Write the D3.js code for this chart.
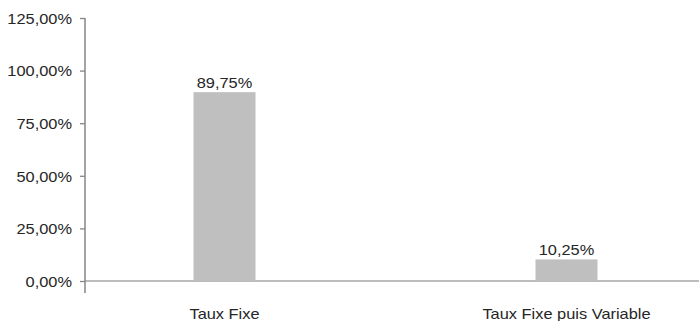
<!DOCTYPE html>
<html>
<head>
<meta charset="utf-8">
<script src="https://cdn.jsdelivr.net/npm/d3@7"></script>
<style>
  html, body { margin: 0; padding: 0; background: #fff; }
  svg { display: block; }
  text { font-family: "Liberation Sans", Arial, sans-serif; fill: #262626; }
</style>
</head>
<body>
<svg id="chart" width="699" height="321"></svg>
<script>
// Loan rate types and their share
const categories = ["Taux Fixe", "Taux Fixe puis Variable"];
const values = [89.75, 10.25];
const yTicks = [0, 25, 50, 75, 100, 125];

const fmt = v => v.toFixed(2).replace(".", ",") + "%";

const svg = d3.select("#chart");

const fontSize = 14.5;
const stretch = 1.13; // slightly wide lettering

const y = d3.scaleLinear().domain([0, 125]).range([281, 18]);
const x = d3.scalePoint().domain(categories).range([224.5, 566.5]);
const barW = 62;
const axisX = 85;

// horizontal baseline
svg.append("line")
  .attr("x1", axisX).attr("x2", 699)
  .attr("y1", y(0)).attr("y2", y(0))
  .attr("stroke", "#a6a6a6").attr("stroke-width", 1.3);

// bars
svg.selectAll("rect.bar").data(values).join("rect")
  .attr("class", "bar")
  .attr("x", (d, i) => x(categories[i]) - barW / 2)
  .attr("width", barW)
  .attr("y", d => y(d))
  .attr("height", d => y(0) - y(d))
  .attr("fill", "#bfbfbf");

// value labels
svg.selectAll("text.val").data(values).join("text")
  .attr("class", "val")
  .attr("transform", (d, i) => `translate(${x(categories[i])},${y(d) - 4}) scale(${stretch},1)`)
  .attr("text-anchor", "middle")
  .attr("font-size", fontSize)
  .text(fmt);

// y axis
const yAxis = d3.axisLeft(y).tickValues(yTicks).tickFormat(fmt).tickSize(5).tickPadding(8);
const gy = svg.append("g").attr("transform", `translate(${axisX},0)`).call(yAxis);
gy.select(".domain").remove();
gy.selectAll(".tick line").attr("stroke", "#868686").attr("stroke-width", 1.3);
gy.selectAll(".tick text")
  .attr("x", 0)
  .attr("dy", "0.37em")
  .attr("transform", `translate(-13,0) scale(${stretch},1)`)
  .attr("font-size", fontSize).attr("fill", "#262626")
  .style("font-family", "'Liberation Sans', Arial, sans-serif");
svg.append("line")
  .attr("x1", axisX).attr("x2", axisX)
  .attr("y1", y(125)).attr("y2", 293)
  .attr("stroke", "#868686").attr("stroke-width", 1.5);

// category labels
svg.selectAll("text.cat").data(categories).join("text")
  .attr("class", "cat")
  .attr("transform", d => `translate(${x(d)},319) scale(${stretch},1)`)
  .attr("text-anchor", "middle")
  .attr("font-size", fontSize)
  .text(d => d);
</script>
</body>
</html>
